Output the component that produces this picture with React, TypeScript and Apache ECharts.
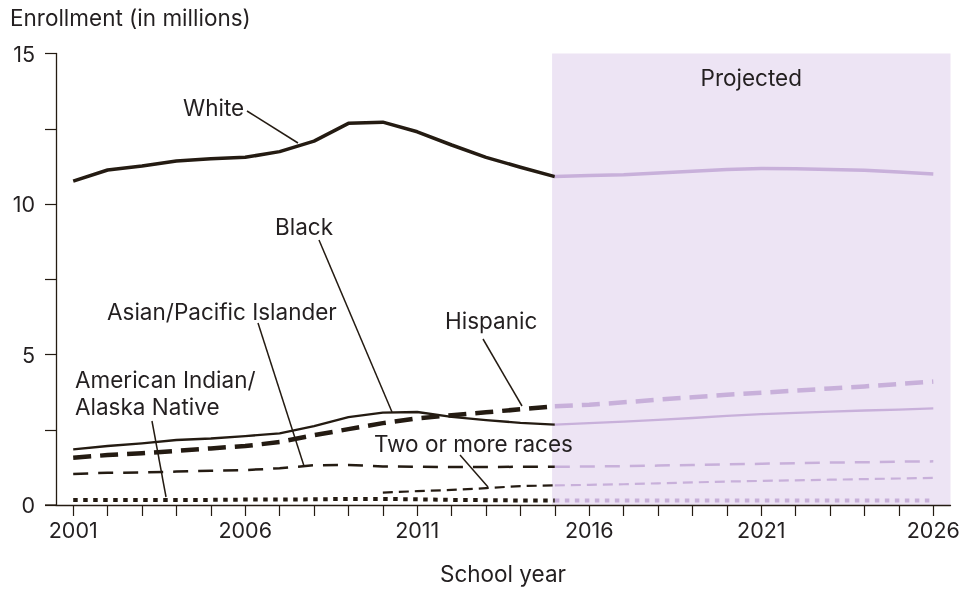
import React, { useEffect, useRef } from "react";
import * as echarts from "echarts";

const categories = Array.from({ length: 26 }, (_, i) => String(2001 + i));
const histYears = [2001, 2002, 2003, 2004, 2005, 2006, 2007, 2008, 2009, 2010, 2011, 2012, 2013, 2014, 2015];
const projYears = [2015, 2016, 2017, 2018, 2019, 2020, 2021, 2022, 2023, 2024, 2025, 2026];
const twoHistYears = [2010, 2011, 2012, 2013, 2014, 2015];

const whiteHist = [10.76, 11.13, 11.26, 11.43, 11.5, 11.55, 11.74, 12.09, 12.68, 12.72, 12.4, 11.96, 11.55, 11.22, 10.91];
const whiteProj = [10.91, 10.95, 10.97, 11.03, 11.09, 11.15, 11.18, 11.17, 11.15, 11.12, 11.06, 11.0];
const blackHist = [1.85, 1.96, 2.05, 2.16, 2.21, 2.29, 2.38, 2.62, 2.92, 3.07, 3.09, 2.93, 2.82, 2.73, 2.67];
const blackProj = [2.67, 2.72, 2.77, 2.83, 2.89, 2.96, 3.02, 3.06, 3.1, 3.14, 3.17, 3.21];
const hispHist = [1.57, 1.66, 1.72, 1.8, 1.88, 1.96, 2.09, 2.32, 2.52, 2.72, 2.88, 2.98, 3.08, 3.18, 3.28];
const hispProj = [3.28, 3.33, 3.41, 3.5, 3.58, 3.66, 3.73, 3.8, 3.87, 3.94, 4.02, 4.1];
const asianHist = [1.03, 1.07, 1.08, 1.11, 1.14, 1.16, 1.22, 1.32, 1.33, 1.28, 1.27, 1.26, 1.26, 1.27, 1.27];
const asianProj = [1.27, 1.28, 1.29, 1.31, 1.33, 1.35, 1.37, 1.39, 1.41, 1.42, 1.44, 1.45];
const twoHist = [0.41, 0.46, 0.5, 0.56, 0.63, 0.65];
const twoProj = [0.65, 0.67, 0.69, 0.72, 0.75, 0.78, 0.8, 0.82, 0.84, 0.86, 0.88, 0.9];
const aianHist = [0.17, 0.17, 0.17, 0.17, 0.17, 0.18, 0.18, 0.19, 0.2, 0.2, 0.19, 0.17, 0.16, 0.15, 0.15];
const aianProj = [0.15, 0.15, 0.15, 0.15, 0.15, 0.15, 0.15, 0.15, 0.15, 0.15, 0.15, 0.15];

const yTicks = [0, 5, 10, 15];

const DARK = "#241b12";
const PURPLE = "#c8b0da";
const SHADE = "#ede4f4";
const TEXT = "#231f20";
const FONT = "Inter, 'Liberation Sans', Arial, sans-serif";
const FS = 22.5;
const TICK_FS = 21.5;

const pairs = (xs: number[], ys: number[]) => xs.map((x, i) => [x, ys[i]]);

export default function App() {
  const ref = useRef<HTMLDivElement>(null);
  useEffect(() => {
    if (!ref.current) return;
    const chart = echarts.init(ref.current, undefined, { renderer: "svg" });

    const mk = (name: string, xs: number[], ys: number[], color: string, width: number, type: any, z = 3) => ({
      name,
      type: "line",
      xAxisIndex: 1,
      yAxisIndex: 0,
      data: pairs(xs, ys),
      symbol: "none",
      smooth: false,
      z,
      lineStyle: { color, width, type, cap: "butt", join: "round" },
    });

    const styles: Record<string, [number, any]> = {
      white: [3.5, "solid"],
      black: [2.3, "solid"],
      hisp: [4.5, [18, 9]],
      asian: [2.5, [15, 10]],
      two: [2.2, [10, 6]],
      aian: [4, [4.5, 5.5]],
    };

    const series: any[] = [
      {
        ...mk("White", histYears, whiteHist, DARK, styles.white[0], styles.white[1]),
        markArea: {
          silent: true,
          itemStyle: { color: SHADE },
          label: {
            show: true,
            position: "insideTop",
            distance: 12,
            color: TEXT,
            fontSize: FS,
            fontFamily: FONT,
          },
          data: [[{ name: "Projected", xAxis: 2014.92, yAxis: 0 }, { xAxis: 2026.5, yAxis: 15 }]],
          z: 0,
        },
      },
      mk("White (projected)", projYears, whiteProj, PURPLE, styles.white[0], styles.white[1]),
      mk("Black", histYears, blackHist, DARK, styles.black[0], styles.black[1]),
      mk("Black (projected)", projYears, blackProj, PURPLE, styles.black[0], styles.black[1]),
      mk("Hispanic", histYears, hispHist, DARK, styles.hisp[0], styles.hisp[1]),
      mk("Hispanic (projected)", projYears, hispProj, PURPLE, styles.hisp[0], styles.hisp[1]),
      mk("Asian/Pacific Islander", histYears, asianHist, DARK, styles.asian[0], styles.asian[1]),
      mk("Asian/Pacific Islander (projected)", projYears, asianProj, PURPLE, styles.asian[0], styles.asian[1]),
      mk("Two or more races", twoHistYears, twoHist, DARK, styles.two[0], styles.two[1]),
      mk("Two or more races (projected)", projYears, twoProj, PURPLE, styles.two[0], styles.two[1]),
      mk("American Indian/Alaska Native", histYears, aianHist, DARK, styles.aian[0], styles.aian[1]),
      mk("American Indian/Alaska Native (projected)", projYears, aianProj, PURPLE, styles.aian[0], styles.aian[1]),
    ];

    const text = (t: string, x: number, y: number, align = "left") => ({
      type: "text",
      x,
      y,
      z: 10,
      style: { text: t, fill: TEXT, fontSize: FS, fontFamily: FONT, align, verticalAlign: "middle" },
    });
    const leader = (x1: number, y1: number, x2: number, y2: number) => ({
      type: "line",
      z: 10,
      shape: { x1, y1, x2, y2 },
      style: { stroke: DARK, lineWidth: 1.5 },
    });

    chart.setOption({
      animation: false,
      textStyle: { fontFamily: FONT },
      grid: { left: 56, right: 25.5, top: 53.5, bottom: 92, containLabel: false },
      xAxis: [
        {
          type: "category",
          data: categories,
          boundaryGap: true,
          axisLine: { show: true, lineStyle: { color: DARK, width: 1.3 } },
          axisTick: { show: true, alignWithLabel: true, interval: 0, length: 11, lineStyle: { color: DARK, width: 1.2 } },
          axisLabel: { interval: 4, margin: 14, color: TEXT, fontSize: TICK_FS, fontFamily: FONT },
          splitLine: { show: false },
          z: 5,
        },
        {
          type: "value",
          min: 2000.5,
          max: 2026.5,
          show: false,
          splitLine: { show: false },
        },
      ],
      yAxis: {
        type: "value",
        min: 0,
        max: 15,
        interval: 2.5,
        axisLine: { show: true, lineStyle: { color: DARK, width: 1.3 } },
        axisTick: { show: true, length: 11, lineStyle: { color: DARK, width: 1.2 } },
        axisLabel: {
          margin: 21,
          color: TEXT,
          fontSize: TICK_FS,
          fontFamily: FONT,
          formatter: (v: number) => (yTicks.includes(v) ? String(v) : ""),
        },
        splitLine: { show: false },
        z: 5,
      },
      graphic: [
        text("Enrollment (in millions)", 10, 17),
        text("School year", 503, 573, "center"),
        { type: "line", z: 10, shape: { x1: 45, y1: 505, x2: 56, y2: 505 }, style: { stroke: DARK, lineWidth: 1.3 } },
        text("White", 183, 107),
        leader(247, 111, 298, 143),
        text("Black", 275, 226),
        leader(319, 240, 392, 412),
        text("Asian/Pacific Islander", 107, 311),
        leader(258, 323, 304, 466),
        text("Hispanic", 445, 320),
        leader(483, 339, 522, 406),
        text("American Indian/", 75, 379),
        text("Alaska Native", 75, 406),
        leader(152, 421, 166, 497),
        text("Two or more races", 374, 443),
        leader(460, 455, 488, 487),
      ],
      series,
    });

    return () => chart.dispose();
  }, []);

  return <div ref={ref} style={{ position: "fixed", left: 0, top: 0, width: 976, height: 597 }} />;
}
